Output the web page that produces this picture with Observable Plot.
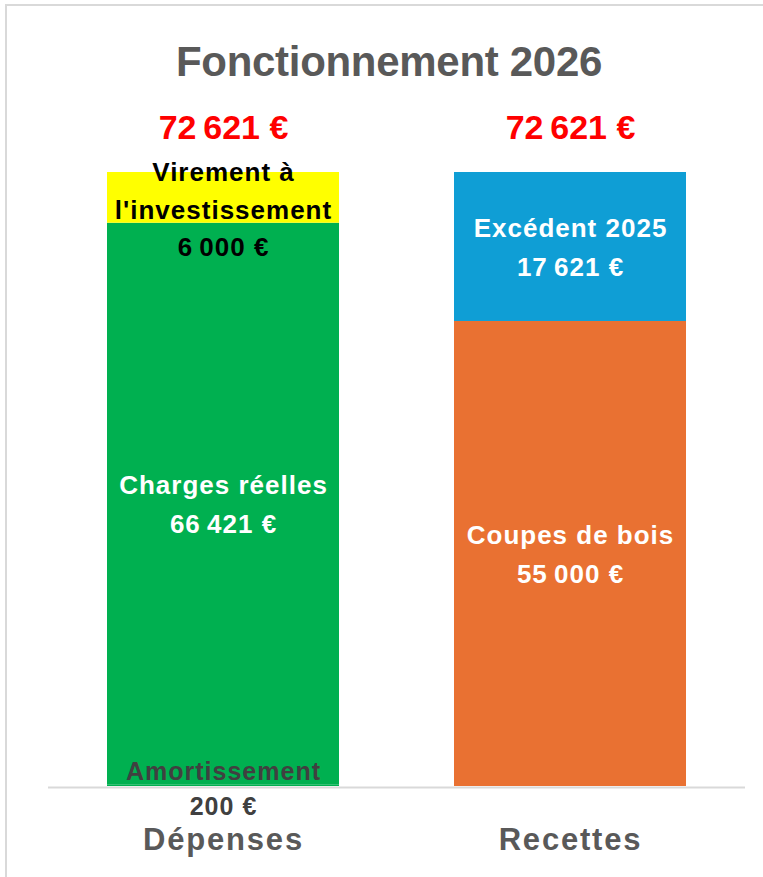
<!DOCTYPE html>
<html>
<head>
<meta charset="utf-8">
<script src="https://cdn.jsdelivr.net/npm/d3@7"></script>
<script src="https://cdn.jsdelivr.net/npm/@observablehq/plot@0.6"></script>
<style>
  html, body { margin: 0; padding: 0; background: #fff; }
  #wrap { position: relative; width: 763px; height: 877px; overflow: hidden; font-family: "Liberation Sans", Arial, sans-serif; }
  #frame { position: absolute; left: 5px; top: 4px; width: 760px; height: 880px; border-left: 2px solid #d9d9d9; border-top: 2px solid #d9d9d9; }
  #title { position: absolute; left: 0; top: 0; width: 763px; height: 100px; box-sizing: border-box; padding-left: 15px; padding-top: 38px; text-align: center; font-weight: bold; font-size: 42px; line-height: 48px; color: #595959; letter-spacing: -0.3px; }
  #chart { position: absolute; left: 0; top: 100px; }
  .seglabel text { letter-spacing: 1px; }
  g[aria-label="x-axis tick label"] text { letter-spacing: 1.8px; }
</style>
</head>
<body>
<div id="wrap">
  <div id="frame"></div>
  <div id="title">Fonctionnement 2026</div>
  <div id="chart"></div>
</div>
<script>
// ---- Data ----
const categories = ["Dépenses", "Recettes"];
const segCategory = ["Dépenses", "Dépenses", "Dépenses", "Recettes", "Recettes"];
const segLabel = ["Amortissement", "Charges réelles", "Virement à\nl'investissement", "Coupes de bois", "Excédent 2025"];
const segValue = [200, 66421, 6000, 55000, 17621];
const segColors = ["#00B050", "#00B050", "#FFFF00", "#E97132", "#0F9ED5"];
const segTextColors = ["#404040", "#FFFFFF", "#000000", "#FFFFFF", "#FFFFFF"];

// ---- Build table ----
const rows = segLabel.map((label, i) => ({
  key: i,
  category: segCategory[i],
  label,
  value: segValue[i],
  color: segColors[i],
  textColor: segTextColors[i]
}));
const totals = categories.map(c => ({
  category: c,
  total: d3.sum(rows.filter(r => r.category === c), r => r.value)
}));

const eur = v => d3.format(",d")(v).replace(/,/g, "\u202F") + "\u00A0€";
const yMax = d3.max(totals, d => d.total);
const VIREMENT = 2;
const AMORT = 0;

const chart = Plot.plot({
  width: 763,
  height: 777,
  marginTop: 72,
  marginBottom: 91,
  marginLeft: 48,
  marginRight: 18,
  style: { fontFamily: "'Liberation Sans', Arial, sans-serif", color: "#595959", background: "transparent" },
  x: { domain: categories, paddingInner: 0.3314, paddingOuter: 0.17, label: null },
  y: { domain: [0, yMax], axis: null },
  color: { type: "identity" },
  marks: [
    Plot.ruleY([0], { stroke: "#d9d9d9", strokeWidth: 2, dy: 1 }),
    Plot.barY(rows, { x: "category", y: "value", fill: "color" }),
    // main segment labels
    Plot.text(rows, Plot.stackY({
      x: "category", y: "value",
      text: d => (d.key === VIREMENT || d.key === AMORT) ? null : d.label + "\n" + eur(d.value),
      fill: "textColor",
      fontSize: 26, fontWeight: "bold", lineHeight: 1.5, dy: -3,
      className: "seglabel"
    })),
    // Virement label (nudged slightly lower, as in the original)
    Plot.text(rows, Plot.stackY({
      x: "category", y: "value",
      text: d => d.key === VIREMENT ? d.label + "\n" + eur(d.value) : null,
      fill: "textColor",
      fontSize: 26, fontWeight: "bold", lineHeight: 1.44, dy: 9,
      className: "seglabel"
    })),
    // Amortissement label (straddles the baseline)
    Plot.text(rows, Plot.stackY({
      x: "category", y: "value",
      text: d => d.key === AMORT ? d.label + "\n" + eur(d.value) : null,
      fill: "textColor",
      fontSize: 25, fontWeight: "bold", lineHeight: 1.4, dy: 1,
      className: "seglabel"
    })),
    // totals above bars
    Plot.text(totals, {
      x: "category", y: "total", text: d => eur(d.total),
      fill: "#FF0000", fontSize: 34, fontWeight: "bold", dy: -44
    }),
    Plot.axisX({ tickSize: 0, tickPadding: 41, fontSize: 31, fontWeight: "bold", label: null })
  ]
});
document.getElementById("chart").appendChild(chart);
</script>
</body>
</html>
